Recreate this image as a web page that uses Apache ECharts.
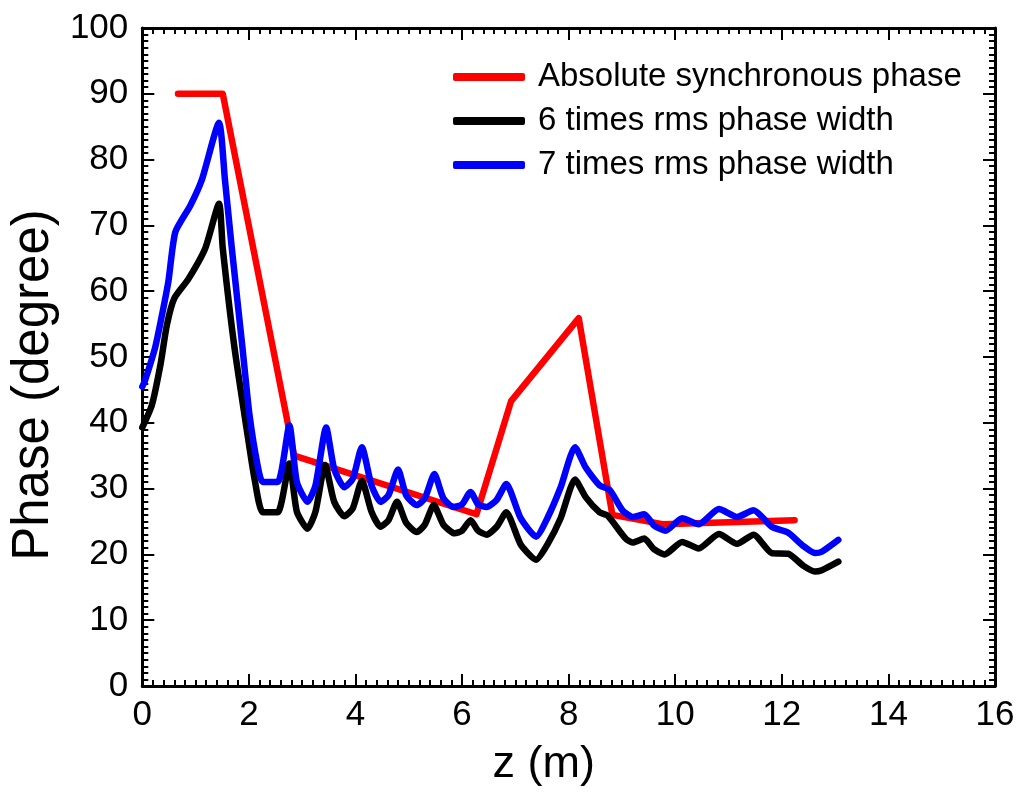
<!DOCTYPE html>
<html>
<head>
<meta charset="utf-8">
<script src="https://cdn.jsdelivr.net/npm/echarts@6/dist/echarts.min.js"></script>
<style>html,body{margin:0;padding:0;background:#fff}#c{width:1021px;height:792px}</style>
</head>
<body>
<div id="c"></div>
<script>
const seriesNames = ['Absolute synchronous phase', '6 times rms phase width', '7 times rms phase width'];
const xTicks = [0, 2, 4, 6, 8, 10, 12, 14, 16];
const yTicks = [0, 10, 20, 30, 40, 50, 60, 70, 80, 90, 100];

const zRed = [0.67, 1.51, 2.85, 6.27, 6.92, 8.19, 8.82, 9.76, 11.0, 12.24];
const vRed = [90, 90, 35, 26.1, 43.3, 55.9, 26, 24.6, 24.9, 25.2];

const zBlack = [0, 0.18, 0.34, 0.46, 0.6, 0.86, 1.18, 1.44, 1.51, 1.73, 2.01, 2.11, 2.26, 2.54, 2.76, 2.9, 3.1, 3.25, 3.43, 3.6, 3.79, 3.95, 4.12, 4.3, 4.47, 4.62, 4.78, 4.95, 5.15, 5.3, 5.47, 5.65, 5.86, 6.0, 6.16, 6.3, 6.46, 6.65, 6.83, 7.1, 7.39, 7.6, 7.85, 8.12, 8.32, 8.58, 8.73, 9.07, 9.2, 9.42, 9.6, 9.8, 10.13, 10.44, 10.82, 11.16, 11.47, 11.81, 12.12, 12.4, 12.62, 12.75, 13.06];
const vBlack = [39.3, 42.7, 48.8, 54.8, 58.9, 61.8, 66.5, 73.3, 66.5, 51.4, 36.3, 31.3, 26.4, 26.4, 33.8, 26.5, 23.9, 26.5, 33.6, 28, 25.8, 27, 31.2, 26.5, 24.2, 25.2, 28, 24.8, 23.4, 24.5, 27.5, 24.5, 23.2, 23.6, 25.2, 23.6, 23, 24.2, 26.4, 21.5, 19.2, 21.5, 25.5, 31.4, 28.7, 26.4, 25.9, 22.4, 21.8, 22.4, 20.8, 20, 21.9, 20.9, 23.1, 21.6, 23, 20.2, 20.1, 18.3, 17.4, 17.6, 18.9];

const zBlue = [0, 0.05, 0.24, 0.37, 0.49, 0.62, 0.9, 1.12, 1.44, 1.55, 1.68, 1.88, 2.01, 2.16, 2.26, 2.54, 2.76, 2.9, 3.1, 3.25, 3.45, 3.6, 3.79, 3.95, 4.12, 4.3, 4.47, 4.62, 4.8, 4.95, 5.15, 5.3, 5.48, 5.65, 5.84, 6.0, 6.16, 6.3, 6.46, 6.65, 6.83, 7.1, 7.39, 7.6, 7.85, 8.12, 8.32, 8.58, 8.77, 9.01, 9.2, 9.42, 9.6, 9.82, 10.13, 10.44, 10.82, 11.16, 11.47, 11.81, 12.12, 12.4, 12.62, 12.75, 13.06];
const vBlue = [45.5, 46.4, 51.4, 56.4, 61.5, 69, 73, 77, 85.6, 77, 66.5, 51.4, 41.3, 33.7, 31, 31, 39.6, 31, 28, 30.5, 39.3, 33, 30.2, 31.5, 36.3, 30.5, 28, 29, 32.9, 29, 27.5, 28.5, 32.2, 28.5, 27.2, 27.6, 29.5, 27.6, 27.2, 28.3, 30.7, 25.5, 22.7, 25.5, 30.2, 36.3, 33.2, 30.5, 29.8, 26.7, 25.7, 26.1, 24.4, 23.6, 25.5, 24.6, 26.9, 25.7, 26.7, 24.2, 23.3, 21.3, 20.2, 20.4, 22.2];

const pairs = (xs, ys) => xs.map((x, i) => [x, ys[i]]);
const FONT = '"Liberation Sans", Arial, sans-serif';

const chart = echarts.init(document.getElementById('c'), null, {renderer: 'canvas'});

const tickCommon = {
  axisLine: {show: true, onZero: false, lineStyle: {color: '#000', width: 3}},
  axisTick: {show: true, inside: true, length: 12, lineStyle: {color: '#000', width: 2}},
  minorTick: {show: true, splitNumber: 10, length: 6, lineStyle: {color: '#000', width: 2}},
  splitLine: {show: false}
};

const xBase = Object.assign({type: 'value', min: xTicks[0], max: xTicks[xTicks.length - 1], interval: 2}, tickCommon);
const yBase = Object.assign({type: 'value', min: yTicks[0], max: yTicks[yTicks.length - 1], interval: 10}, tickCommon);

chart.setOption({
  animation: false,
  backgroundColor: '#fff',
  grid: {left: 137, right: 26, top: 28, bottom: 102, containLabel: false},
  legend: {
    orient: 'vertical',
    left: 448,
    top: 55,
    itemWidth: 72,
    itemHeight: 8,
    itemGap: 10,
    icon: 'roundRect',
    textStyle: {fontFamily: FONT, fontSize: 33, color: '#000', padding: [0, 0, 0, 8], lineHeight: 34},
    data: seriesNames
  },
  xAxis: [
    Object.assign({}, xBase, {
      position: 'bottom',
      name: 'z (m)', nameLocation: 'middle', nameGap: 56,
      nameTextStyle: {fontFamily: FONT, fontSize: 45, color: '#000', padding: [0, 50, 0, 0]},
      axisLabel: {fontFamily: FONT, fontSize: 35, color: '#000', margin: 12}
    }),
    Object.assign({}, xBase, {position: 'top', axisLabel: {show: false}})
  ],
  yAxis: [
    Object.assign({}, yBase, {
      position: 'left',
      name: 'Phase (degree)', nameLocation: 'middle', nameGap: 78,
      nameTextStyle: {fontFamily: FONT, fontSize: 51, color: '#000', padding: [0, 56, 0, 0]},
      axisLabel: {fontFamily: FONT, fontSize: 35, color: '#000', margin: 14}
    }),
    Object.assign({}, yBase, {position: 'right', axisLabel: {show: false}})
  ],
  series: [
    {name: seriesNames[0], type: 'line', data: pairs(zRed, vRed), showSymbol: false, symbol: 'none',
      lineStyle: {color: '#ff0000', width: 6.5, cap: 'round', join: 'round'}, itemStyle: {color: '#ff0000'}, z: 2},
    {name: seriesNames[1], type: 'line', data: pairs(zBlack, vBlack), showSymbol: false, symbol: 'none', smooth: 0.2,
      lineStyle: {color: '#000000', width: 6.5, cap: 'round', join: 'round'}, itemStyle: {color: '#000000'}, z: 3},
    {name: seriesNames[2], type: 'line', data: pairs(zBlue, vBlue), showSymbol: false, symbol: 'none', smooth: 0.2,
      lineStyle: {color: '#0000ff', width: 6.5, cap: 'round', join: 'round'}, itemStyle: {color: '#0000ff'}, z: 4}
  ]
});
</script>
</body>
</html>
